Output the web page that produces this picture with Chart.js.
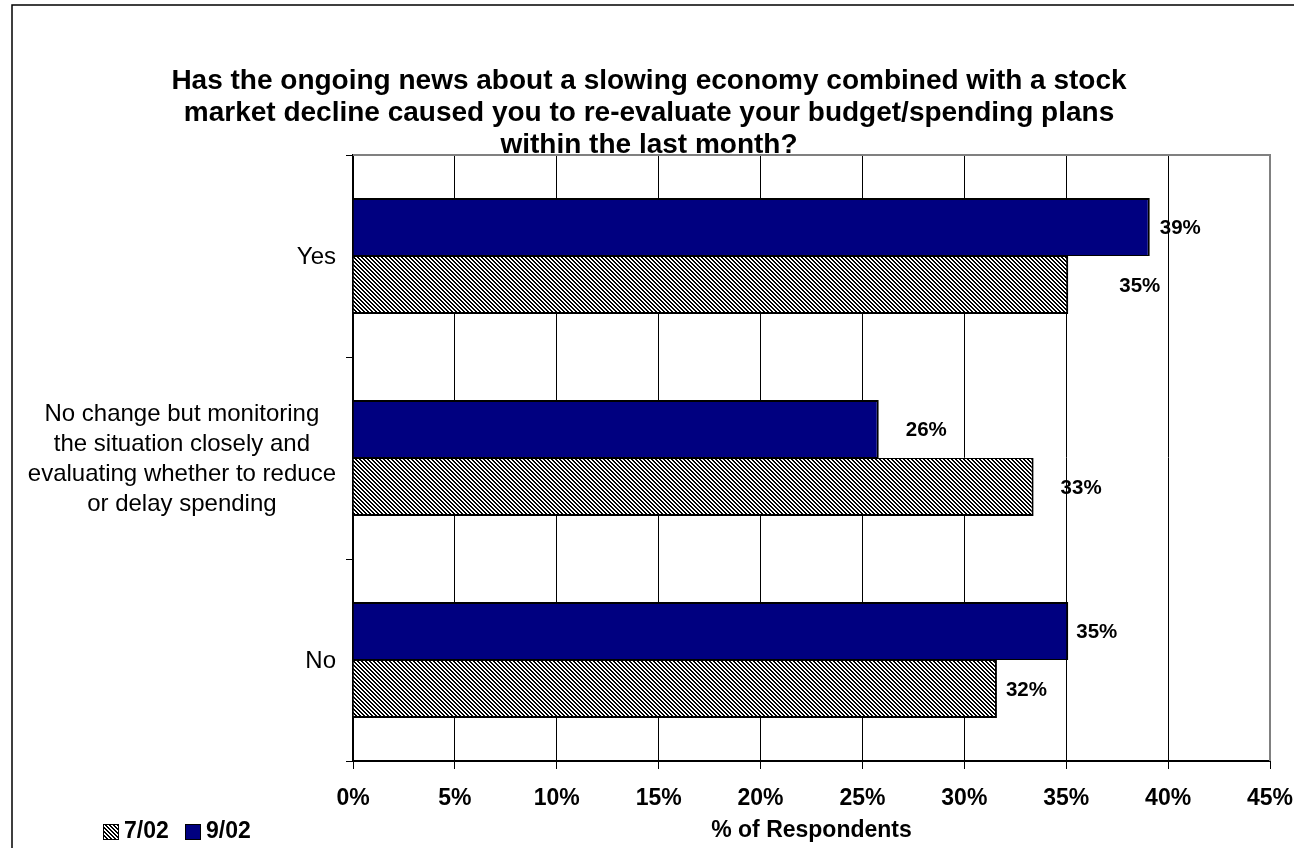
<!DOCTYPE html>
<html>
<head>
<meta charset="utf-8">
<title>Budget / spending plans</title>
<script src="https://cdn.jsdelivr.net/npm/chart.js@4.4.1/dist/chart.umd.min.js"></script>
<style>
  html, body { margin: 0; padding: 0; background: #fff; }
  canvas { display: block; }
</style>
</head>
<body>
<canvas id="chart" width="1294" height="848"></canvas>
<script>
// survey answers (top to bottom)
const categories = [
    ['Yes'],
    ['No change but monitoring', 'the situation closely and', 'evaluating whether to reduce', 'or delay spending'],
    ['No']
];
const seriesNames = ['7/02', '9/02'];
const jul02 = [35.1, 33.4, 31.6];
const sep02 = [39.1, 25.8, 35.1];
const xTicks = [0, 5, 10, 15, 20, 25, 30, 35, 40, 45];

// how far each value label sits right of its bar end (px)
const sepLabelShift = [10, 27, 8];
const julLabelShift = [51, 27, 9];

const FONT = "'Liberation Sans', Arial, Helvetica, sans-serif";
Chart.defaults.font.family = FONT;
Chart.defaults.color = '#000';

// diagonal "\" hatch, 4px period
function makeHatch() {
    const c = document.createElement('canvas');
    c.width = 8; c.height = 8;
    const g = c.getContext('2d');
    const img = g.createImageData(8, 8);
    for (let y = 0; y < 8; y++) {
        for (let x = 0; x < 8; x++) {
            const k = (y * 8 + x) * 4;
            const on = ((x - y) % 4 + 4) % 4 < 2;
            const v = on ? 0 : 255;
            img.data[k] = v; img.data[k + 1] = v; img.data[k + 2] = v; img.data[k + 3] = 255;
        }
    }
    g.putImageData(img, 0, 0);
    return g.createPattern(c, 'repeat');
}
const hatch = makeHatch();
const NAVY = '#000080';

const decor = {
    id: 'decor',
    beforeDraw(chart) {
        const ctx = chart.ctx;
        ctx.save();
        ctx.fillStyle = '#fff';
        ctx.fillRect(0, 0, chart.width, chart.height);
        ctx.restore();
    },
    afterDatasetsDraw(chart) {
        const ctx = chart.ctx;
        const shifts = [sepLabelShift, julLabelShift];
        ctx.save();
        ctx.font = 'bold 20.5px ' + FONT;
        ctx.fillStyle = '#000';
        ctx.textAlign = 'left';
        ctx.textBaseline = 'middle';
        chart.data.datasets.forEach((ds, i) => {
            const meta = chart.getDatasetMeta(i);
            meta.data.forEach((bar, j) => {
                ctx.fillText(Math.round(ds.data[j]) + '%', bar.x + shifts[i][j], bar.y + 1);
            });
        });
        ctx.restore();
    },
    afterDraw(chart) {
        const ctx = chart.ctx;
        const a = chart.chartArea;
        const y = chart.scales.y;
        ctx.save();

        // gray frame on the open sides of the plot
        ctx.strokeStyle = '#808080';
        ctx.lineWidth = 2;
        ctx.beginPath();
        ctx.moveTo(a.left, a.top);
        ctx.lineTo(a.right, a.top);
        ctx.lineTo(a.right, a.bottom);
        ctx.stroke();

        // category labels: block right-aligned, lines centred inside it
        ctx.font = '24px ' + FONT;
        ctx.fillStyle = '#000';
        ctx.textAlign = 'center';
        ctx.textBaseline = 'middle';
        const rightEdge = a.left - 17;
        const lh = 30;
        categories.forEach((lines, i) => {
            const cy = y.getPixelForValue(i) + 1;
            const w = Math.max(...lines.map(s => ctx.measureText(s).width));
            const cx = rightEdge - w / 2;
            lines.forEach((s, k) => {
                ctx.fillText(s, cx, cy + (k - (lines.length - 1) / 2) * lh);
            });
        });

        // legend, bottom left
        const ly = 832;
        ctx.font = 'bold 23px ' + FONT;
        ctx.textAlign = 'left';
        let lx = 103;
        seriesNames.forEach(name => {
            ctx.fillStyle = name === '7/02' ? hatch : NAVY;
            ctx.fillRect(lx, ly - 8, 16, 16);
            ctx.strokeStyle = '#000';
            ctx.lineWidth = 1;
            ctx.strokeRect(lx + 0.5, ly - 7.5, 15, 15);
            ctx.fillStyle = '#000';
            ctx.fillText(name, lx + 21, ly);
            lx += 82;
        });

        // outer chart frame
        ctx.strokeStyle = '#000';
        ctx.lineWidth = 1.5;
        ctx.beginPath();
        ctx.moveTo(12, chart.height + 2);
        ctx.lineTo(12, 5);
        ctx.lineTo(chart.width + 2, 5);
        ctx.stroke();
        ctx.restore();
    }
};

new Chart(document.getElementById('chart'), {
    type: 'bar',
    data: {
        labels: categories,
        datasets: [
            {
                label: '9/02',
                data: sep02,
                backgroundColor: NAVY,
                borderColor: '#000',
                borderWidth: { top: 2, right: 2, bottom: 1, left: 2 }
            },
            {
                label: '7/02',
                data: jul02,
                backgroundColor: hatch,
                borderColor: '#000',
                borderWidth: { top: 1, right: 2, bottom: 2, left: 2 }
            }
        ]
    },
    options: {
        indexAxis: 'y',
        responsive: false,
        animation: false,
        barPercentage: 1,
        categoryPercentage: 0.575,
        layout: { padding: { left: 4, right: 0, top: 0, bottom: 0 } },
        plugins: {
            legend: { display: false },
            tooltip: { enabled: false },
            title: {
                display: true,
                text: [
                    'Has the ongoing news about a slowing economy combined with a stock',
                    'market decline caused you to re-evaluate your budget/spending plans',
                    'within the last month?'
                ],
                color: '#000',
                font: { size: 28, weight: 'bold', lineHeight: 32 / 28 },
                padding: { top: 65, bottom: -6 }
            }
        },
        scales: {
            x: {
                type: 'linear',
                min: xTicks[0],
                max: xTicks[xTicks.length - 1],
                afterBuildTicks: s => { s.ticks = xTicks.map(v => ({ value: v })); },
                afterFit: s => { s.height = 87; s.paddingRight = 24; },
                ticks: {
                    callback: v => v + '%',
                    font: { size: 23, weight: 'bold' },
                    color: '#000',
                    padding: 16,
                    maxRotation: 0
                },
                grid: { color: '#000', lineWidth: 1, tickLength: 8, tickColor: '#000' },
                border: { color: '#000', width: 2 },
                title: {
                    display: true,
                    text: '% of Respondents',
                    font: { size: 23, weight: 'bold' },
                    color: '#000',
                    padding: 4
                }
            },
            y: {
                type: 'category',
                afterFit: s => { s.width = 349; },
                ticks: { display: false },
                grid: {
                    drawOnChartArea: false,
                    offset: true,
                    tickLength: 7,
                    tickColor: '#000',
                    lineWidth: 1
                },
                border: { color: '#000', width: 2 }
            }
        }
    },
    plugins: [decor]
});
</script>
</body>
</html>
